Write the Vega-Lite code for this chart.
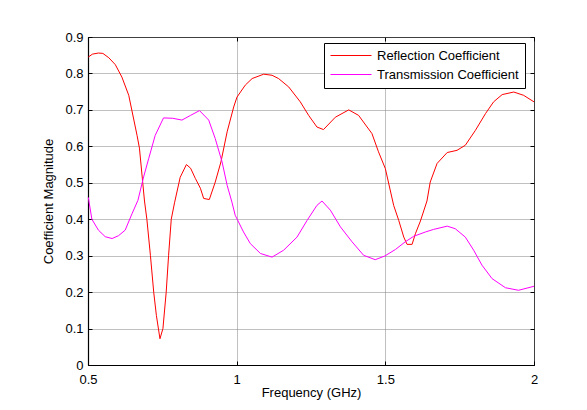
{
  "$schema": "https://vega.github.io/schema/vega-lite/v6.json",
  "width": 446,
  "height": 328,
  "autosize": {"type": "none"},
  "padding": {"left": 88, "top": 37, "right": 53, "bottom": 45},
  "background": "white",
  "config": {
    "view": {"stroke": "black", "strokeWidth": 1},
    "font": "Liberation Sans",
    "axis": {
      "domainColor": "black",
      "domainWidth": 1.2,
      "tickColor": "black",
      "tickSize": -4,
      "labelFontSize": 13,
      "labelColor": "black",
      "labelFlush": false,
      "titleFontSize": 13,
      "titleFontWeight": "normal",
      "titleColor": "black",
      "gridColor": "#808080",
      "gridDash": [1, 1],
      "gridWidth": 1
    }
  },
  "data": {
    "values": [
      {"f": 0.501, "v": 0.845, "s": "Reflection Coefficient"},
      {"f": 0.515, "v": 0.853, "s": "Reflection Coefficient"},
      {"f": 0.535, "v": 0.856, "s": "Reflection Coefficient"},
      {"f": 0.550, "v": 0.855, "s": "Reflection Coefficient"},
      {"f": 0.570, "v": 0.843, "s": "Reflection Coefficient"},
      {"f": 0.592, "v": 0.824, "s": "Reflection Coefficient"},
      {"f": 0.614, "v": 0.790, "s": "Reflection Coefficient"},
      {"f": 0.637, "v": 0.740, "s": "Reflection Coefficient"},
      {"f": 0.665, "v": 0.630, "s": "Reflection Coefficient"},
      {"f": 0.673, "v": 0.595, "s": "Reflection Coefficient"},
      {"f": 0.690, "v": 0.450, "s": "Reflection Coefficient"},
      {"f": 0.698, "v": 0.400, "s": "Reflection Coefficient"},
      {"f": 0.710, "v": 0.300, "s": "Reflection Coefficient"},
      {"f": 0.721, "v": 0.200, "s": "Reflection Coefficient"},
      {"f": 0.730, "v": 0.136, "s": "Reflection Coefficient"},
      {"f": 0.742, "v": 0.072, "s": "Reflection Coefficient"},
      {"f": 0.752, "v": 0.100, "s": "Reflection Coefficient"},
      {"f": 0.763, "v": 0.200, "s": "Reflection Coefficient"},
      {"f": 0.771, "v": 0.300, "s": "Reflection Coefficient"},
      {"f": 0.780, "v": 0.400, "s": "Reflection Coefficient"},
      {"f": 0.791, "v": 0.445, "s": "Reflection Coefficient"},
      {"f": 0.810, "v": 0.515, "s": "Reflection Coefficient"},
      {"f": 0.831, "v": 0.550, "s": "Reflection Coefficient"},
      {"f": 0.845, "v": 0.540, "s": "Reflection Coefficient"},
      {"f": 0.861, "v": 0.512, "s": "Reflection Coefficient"},
      {"f": 0.878, "v": 0.485, "s": "Reflection Coefficient"},
      {"f": 0.889, "v": 0.457, "s": "Reflection Coefficient"},
      {"f": 0.908, "v": 0.454, "s": "Reflection Coefficient"},
      {"f": 0.928, "v": 0.502, "s": "Reflection Coefficient"},
      {"f": 0.947, "v": 0.557, "s": "Reflection Coefficient"},
      {"f": 0.968, "v": 0.640, "s": "Reflection Coefficient"},
      {"f": 0.990, "v": 0.708, "s": "Reflection Coefficient"},
      {"f": 1.001, "v": 0.735, "s": "Reflection Coefficient"},
      {"f": 1.029, "v": 0.768, "s": "Reflection Coefficient"},
      {"f": 1.052, "v": 0.786, "s": "Reflection Coefficient"},
      {"f": 1.091, "v": 0.798, "s": "Reflection Coefficient"},
      {"f": 1.119, "v": 0.795, "s": "Reflection Coefficient"},
      {"f": 1.141, "v": 0.786, "s": "Reflection Coefficient"},
      {"f": 1.175, "v": 0.763, "s": "Reflection Coefficient"},
      {"f": 1.214, "v": 0.722, "s": "Reflection Coefficient"},
      {"f": 1.242, "v": 0.685, "s": "Reflection Coefficient"},
      {"f": 1.270, "v": 0.653, "s": "Reflection Coefficient"},
      {"f": 1.292, "v": 0.646, "s": "Reflection Coefficient"},
      {"f": 1.332, "v": 0.680, "s": "Reflection Coefficient"},
      {"f": 1.377, "v": 0.700, "s": "Reflection Coefficient"},
      {"f": 1.410, "v": 0.685, "s": "Reflection Coefficient"},
      {"f": 1.455, "v": 0.635, "s": "Reflection Coefficient"},
      {"f": 1.477, "v": 0.585, "s": "Reflection Coefficient"},
      {"f": 1.500, "v": 0.539, "s": "Reflection Coefficient"},
      {"f": 1.528, "v": 0.438, "s": "Reflection Coefficient"},
      {"f": 1.545, "v": 0.397, "s": "Reflection Coefficient"},
      {"f": 1.562, "v": 0.351, "s": "Reflection Coefficient"},
      {"f": 1.573, "v": 0.331, "s": "Reflection Coefficient"},
      {"f": 1.590, "v": 0.331, "s": "Reflection Coefficient"},
      {"f": 1.601, "v": 0.360, "s": "Reflection Coefficient"},
      {"f": 1.618, "v": 0.395, "s": "Reflection Coefficient"},
      {"f": 1.640, "v": 0.450, "s": "Reflection Coefficient"},
      {"f": 1.651, "v": 0.502, "s": "Reflection Coefficient"},
      {"f": 1.674, "v": 0.553, "s": "Reflection Coefficient"},
      {"f": 1.708, "v": 0.583, "s": "Reflection Coefficient"},
      {"f": 1.741, "v": 0.589, "s": "Reflection Coefficient"},
      {"f": 1.769, "v": 0.603, "s": "Reflection Coefficient"},
      {"f": 1.803, "v": 0.644, "s": "Reflection Coefficient"},
      {"f": 1.837, "v": 0.690, "s": "Reflection Coefficient"},
      {"f": 1.864, "v": 0.722, "s": "Reflection Coefficient"},
      {"f": 1.893, "v": 0.742, "s": "Reflection Coefficient"},
      {"f": 1.932, "v": 0.749, "s": "Reflection Coefficient"},
      {"f": 1.965, "v": 0.740, "s": "Reflection Coefficient"},
      {"f": 2.000, "v": 0.722, "s": "Reflection Coefficient"},
      {"f": 0.501, "v": 0.460, "s": "Transmission Coefficient"},
      {"f": 0.513, "v": 0.400, "s": "Transmission Coefficient"},
      {"f": 0.535, "v": 0.370, "s": "Transmission Coefficient"},
      {"f": 0.558, "v": 0.352, "s": "Transmission Coefficient"},
      {"f": 0.581, "v": 0.347, "s": "Transmission Coefficient"},
      {"f": 0.603, "v": 0.355, "s": "Transmission Coefficient"},
      {"f": 0.625, "v": 0.370, "s": "Transmission Coefficient"},
      {"f": 0.648, "v": 0.415, "s": "Transmission Coefficient"},
      {"f": 0.668, "v": 0.452, "s": "Transmission Coefficient"},
      {"f": 0.687, "v": 0.516, "s": "Transmission Coefficient"},
      {"f": 0.704, "v": 0.566, "s": "Transmission Coefficient"},
      {"f": 0.726, "v": 0.630, "s": "Transmission Coefficient"},
      {"f": 0.754, "v": 0.678, "s": "Transmission Coefficient"},
      {"f": 0.785, "v": 0.677, "s": "Transmission Coefficient"},
      {"f": 0.816, "v": 0.672, "s": "Transmission Coefficient"},
      {"f": 0.845, "v": 0.685, "s": "Transmission Coefficient"},
      {"f": 0.875, "v": 0.698, "s": "Transmission Coefficient"},
      {"f": 0.906, "v": 0.672, "s": "Transmission Coefficient"},
      {"f": 0.928, "v": 0.621, "s": "Transmission Coefficient"},
      {"f": 0.951, "v": 0.557, "s": "Transmission Coefficient"},
      {"f": 0.968, "v": 0.493, "s": "Transmission Coefficient"},
      {"f": 0.984, "v": 0.447, "s": "Transmission Coefficient"},
      {"f": 0.995, "v": 0.411, "s": "Transmission Coefficient"},
      {"f": 1.023, "v": 0.365, "s": "Transmission Coefficient"},
      {"f": 1.046, "v": 0.333, "s": "Transmission Coefficient"},
      {"f": 1.080, "v": 0.306, "s": "Transmission Coefficient"},
      {"f": 1.119, "v": 0.296, "s": "Transmission Coefficient"},
      {"f": 1.158, "v": 0.315, "s": "Transmission Coefficient"},
      {"f": 1.203, "v": 0.351, "s": "Transmission Coefficient"},
      {"f": 1.237, "v": 0.397, "s": "Transmission Coefficient"},
      {"f": 1.270, "v": 0.438, "s": "Transmission Coefficient"},
      {"f": 1.287, "v": 0.450, "s": "Transmission Coefficient"},
      {"f": 1.315, "v": 0.425, "s": "Transmission Coefficient"},
      {"f": 1.349, "v": 0.379, "s": "Transmission Coefficient"},
      {"f": 1.388, "v": 0.338, "s": "Transmission Coefficient"},
      {"f": 1.427, "v": 0.301, "s": "Transmission Coefficient"},
      {"f": 1.466, "v": 0.289, "s": "Transmission Coefficient"},
      {"f": 1.498, "v": 0.299, "s": "Transmission Coefficient"},
      {"f": 1.534, "v": 0.317, "s": "Transmission Coefficient"},
      {"f": 1.567, "v": 0.338, "s": "Transmission Coefficient"},
      {"f": 1.595, "v": 0.353, "s": "Transmission Coefficient"},
      {"f": 1.635, "v": 0.365, "s": "Transmission Coefficient"},
      {"f": 1.662, "v": 0.372, "s": "Transmission Coefficient"},
      {"f": 1.708, "v": 0.381, "s": "Transmission Coefficient"},
      {"f": 1.735, "v": 0.374, "s": "Transmission Coefficient"},
      {"f": 1.769, "v": 0.351, "s": "Transmission Coefficient"},
      {"f": 1.797, "v": 0.315, "s": "Transmission Coefficient"},
      {"f": 1.825, "v": 0.274, "s": "Transmission Coefficient"},
      {"f": 1.859, "v": 0.237, "s": "Transmission Coefficient"},
      {"f": 1.904, "v": 0.212, "s": "Transmission Coefficient"},
      {"f": 1.948, "v": 0.205, "s": "Transmission Coefficient"},
      {"f": 2.000, "v": 0.216, "s": "Transmission Coefficient"}
    ]
  },
  "layer": [
    {
      "mark": {"type": "line", "strokeWidth": 1},
      "encoding": {
        "x": {
          "field": "f", "type": "quantitative",
          "scale": {"domain": [0.5, 2], "nice": false, "zero": false},
          "axis": {"orient": "bottom", "title": "Frequency (GHz)", "values": [0.5, 1, 1.5, 2], "format": "~g", "labelPadding": 12, "titlePadding": 0, "grid": true}
        },
        "y": {
          "field": "v", "type": "quantitative",
          "scale": {"domain": [0, 0.9], "nice": false, "zero": false},
          "axis": {"orient": "left", "title": "Coefficient Magnitude", "values": [0, 0.1, 0.2, 0.3, 0.4, 0.5, 0.6, 0.7, 0.8, 0.9], "format": "~g", "labelPadding": 9, "titlePadding": 9, "grid": true}
        },
        "color": {
          "field": "s", "type": "nominal",
          "scale": {"domain": ["Reflection Coefficient", "Transmission Coefficient"], "range": ["#ff0000", "#ff00ff"]},
          "legend": {
            "title": null, "orient": "none", "legendX": 236, "legendY": 6,
            "strokeColor": "black", "fillColor": "white", "padding": 6,
            "symbolType": "stroke", "symbolSize": 1681, "symbolStrokeWidth": 1,
            "clipHeight": 13,
            "labelFontSize": 13, "labelColor": "black", "labelOffset": 5, "rowPadding": 5
          }
        }
      }
    },
    {
      "mark": {"type": "point", "opacity": 0},
      "encoding": {
        "x": {
          "field": "f", "type": "quantitative",
          "scale": {"domain": [0.5, 2], "nice": false, "zero": false},
          "axis": {"orient": "top", "title": null, "labels": false, "domain": false, "grid": false, "values": [0.5, 1, 1.5, 2]}
        },
        "y": {
          "field": "v", "type": "quantitative",
          "scale": {"domain": [0, 0.9], "nice": false, "zero": false},
          "axis": {"orient": "right", "title": null, "labels": false, "domain": false, "grid": false, "values": [0, 0.1, 0.2, 0.3, 0.4, 0.5, 0.6, 0.7, 0.8, 0.9]}
        }
      }
    }
  ],
  "resolve": {"axis": {"x": "independent", "y": "independent"}}
}
